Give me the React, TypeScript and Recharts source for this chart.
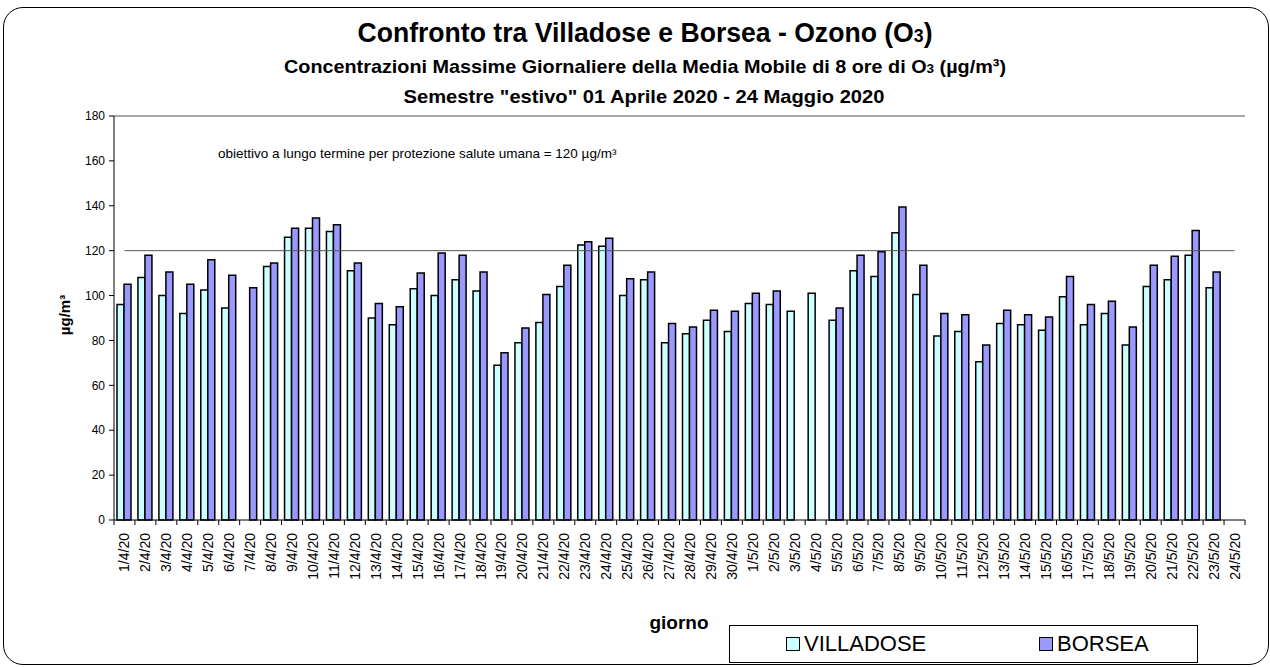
import React from 'react';
import {
  ComposedChart,
  Bar,
  XAxis,
  YAxis,
  ReferenceLine,
  Legend,
} from 'recharts';

const dates = [
  '1/4/20', '2/4/20', '3/4/20', '4/4/20', '5/4/20', '6/4/20', '7/4/20', '8/4/20', '9/4/20', '10/4/20',
  '11/4/20', '12/4/20', '13/4/20', '14/4/20', '15/4/20', '16/4/20', '17/4/20', '18/4/20', '19/4/20', '20/4/20',
  '21/4/20', '22/4/20', '23/4/20', '24/4/20', '25/4/20', '26/4/20', '27/4/20', '28/4/20', '29/4/20', '30/4/20',
  '1/5/20', '2/5/20', '3/5/20', '4/5/20', '5/5/20', '6/5/20', '7/5/20', '8/5/20', '9/5/20', '10/5/20',
  '11/5/20', '12/5/20', '13/5/20', '14/5/20', '15/5/20', '16/5/20', '17/5/20', '18/5/20', '19/5/20', '20/5/20',
  '21/5/20', '22/5/20', '23/5/20', '24/5/20',
];

const villadose = [
  96, 108, 100, 92, 102.5, 94.5, null, 113, 126, 130,
  128.5, 111, 90, 87, 103, 100, 107, 102, 69, 79,
  88, 104, 122.5, 122, 100, 107, 79, 83, 89, 84,
  96.5, 96, 93, 101, 89, 111, 108.5, 128, 100.5, 82,
  84, 70.5, 87.5, 87, 84.5, 99.5, 87, 92, 78, 104,
  107, 118, 103.5, null,
];

const borsea = [
  105, 118, 110.5, 105, 116, 109, 103.5, 114.5, 130, 134.5,
  131.5, 114.5, 96.5, 95, 110, 119, 118, 110.5, 74.5, 85.5,
  100.5, 113.5, 124, 125.5, 107.5, 110.5, 87.5, 86, 93.5, 93,
  101, 102, null, null, 94.5, 118, 119.5, 139.5, 113.5, 92,
  91.5, 78, 93.5, 91.5, 90.5, 108.5, 96, 97.5, 86, 113.5,
  117.5, 129, 110.5, null,
];

const yTicks = [0, 20, 40, 60, 80, 100, 120, 140, 160, 180];
const LIMIT = 120;
const seriesOrder = ['VILLADOSE', 'BORSEA'];

const data = dates.map((d, i) => ({ date: d, villadose: villadose[i], borsea: borsea[i] }));

const FONT = '"Liberation Sans", Arial, Helvetica, sans-serif';
const PLOT_LEFT = 114;
const PLOT_RIGHT = 1245;
const PLOT_BOTTOM = 520;
const BAND = (PLOT_RIGHT - PLOT_LEFT) / dates.length;

function DateTick(props: any) {
  const { x, payload, index } = props;
  return (
    <g>
      <line x1={x - BAND / 2} y1={PLOT_BOTTOM} x2={x - BAND / 2} y2={PLOT_BOTTOM + 5} stroke="#000" />
      {index === dates.length - 1 && (
        <line x1={x + BAND / 2} y1={PLOT_BOTTOM} x2={x + BAND / 2} y2={PLOT_BOTTOM + 5} stroke="#000" />
      )}
      <text
        transform={`translate(${x + 5},${PLOT_BOTTOM + 13}) rotate(-90)`}
        textAnchor="end"
        fontSize={14}
        fontFamily={FONT}
        fill="#000"
      >
        {payload.value}
      </text>
    </g>
  );
}

function LegendBox(props: any) {
  const items = [...(props.payload || [])].sort(
    (a: any, b: any) => seriesOrder.indexOf(a.value) - seriesOrder.indexOf(b.value)
  );
  return (
    <div
      style={{
        width: 469,
        height: 38,
        border: '1px solid #000',
        background: '#fff',
        boxSizing: 'border-box',
        position: 'relative',
        fontFamily: FONT,
        fontSize: 22,
        color: '#000',
      }}
    >
      {items.map((it: any, i: number) => (
        <div
          key={it.value}
          style={{ position: 'absolute', left: i === 0 ? 56 : 309, top: 6, display: 'flex', alignItems: 'center', lineHeight: '24px' }}
        >
          <span
            style={{
              display: 'inline-block',
              width: 12,
              height: 12,
              border: '1px solid #000',
              background: it.color,
              marginRight: 4,
            }}
          />
          <span>{it.value}</span>
        </div>
      ))}
    </div>
  );
}

export default function App() {
  return (
    <div style={{ position: 'absolute', left: 0, top: 0, width: 1270, height: 667, background: '#fff', fontFamily: FONT }}>
      <div
        style={{
          position: 'absolute',
          left: 3,
          top: 7,
          width: 1266,
          height: 658,
          border: '1.5px solid #000',
          borderRadius: 20,
          boxSizing: 'border-box',
        }}
      />
      <svg width={1270} height={667} style={{ position: 'absolute', left: 0, top: 0 }} fontFamily={FONT}>
        <text x={645} y={42} textAnchor="middle" fontSize={27} fontWeight="bold" textLength={575} lengthAdjust="spacingAndGlyphs">
          Confronto tra Villadose e Borsea - Ozono (O<tspan fontSize={18}>3</tspan>)
        </text>
        <text x={645} y={73} textAnchor="middle" fontSize={19} fontWeight="bold" textLength={722} lengthAdjust="spacingAndGlyphs">
          Concentrazioni Massime Giornaliere della Media Mobile di 8 ore di O<tspan fontSize={13}>3</tspan> (µg/m³)
        </text>
        <text x={644} y={103} textAnchor="middle" fontSize={19} fontWeight="bold" textLength={481} lengthAdjust="spacingAndGlyphs">
          Semestre "estivo" 01 Aprile 2020 - 24 Maggio 2020
        </text>
        <text x={218} y={158} fontSize={13.5}>
          obiettivo a lungo termine per protezione salute umana = 120 µg/m³
        </text>
        <text transform="translate(70,315) rotate(-90)" textAnchor="middle" fontSize={15} fontWeight="bold">
          µg/m³
        </text>
        <text x={679} y={629} textAnchor="middle" fontSize={19} fontWeight="bold">
          giorno
        </text>
      </svg>
      <div style={{ position: 'absolute', left: 0, top: 0 }}>
        <ComposedChart
          width={1270}
          height={667}
          data={data}
          margin={{ top: 116, right: 1270 - PLOT_RIGHT, bottom: 47, left: 0 }}
          barGap={0}
          barSize={7}
        >
          <XAxis
            dataKey="date"
            interval={0}
            height={100}
            tick={<DateTick />}
            tickLine={false}
            axisLine={{ stroke: '#000', strokeWidth: 1 }}
          />
          <YAxis
            width={PLOT_LEFT}
            domain={[0, 180]}
            ticks={yTicks}
            interval={0}
            tickSize={5}
            tickMargin={4}
            tick={{ fontSize: 12, fill: '#000', fontFamily: FONT }}
            tickLine={{ stroke: '#000' }}
            axisLine={{ stroke: '#000', strokeWidth: 1 }}
          />
          <YAxis
            yAxisId="r"
            orientation="right"
            width={0}
            domain={[0, 180]}
            tick={false}
            tickLine={false}
            axisLine={{ stroke: '#888', strokeWidth: 1.5 }}
          />
          <ReferenceLine y={180} stroke="#888" strokeWidth={1.5} />
          <ReferenceLine
            segment={[
              { x: dates[0], y: LIMIT },
              { x: dates[dates.length - 1], y: LIMIT },
            ]}
            stroke="#555"
            strokeWidth={1}
          />
          <Bar dataKey="villadose" name="VILLADOSE" fill="#CCFFFF" stroke="#000" strokeWidth={1.5} isAnimationActive={false} />
          <Bar dataKey="borsea" name="BORSEA" fill="#9999FF" stroke="#000" strokeWidth={1.5} isAnimationActive={false} />
          <Legend
            layout="horizontal"
            verticalAlign="middle"
            align="center"
            content={<LegendBox />}
            wrapperStyle={{ position: 'absolute', left: 729, top: 625, width: 469, height: 38 }}
          />
        </ComposedChart>
      </div>
    </div>
  );
}
